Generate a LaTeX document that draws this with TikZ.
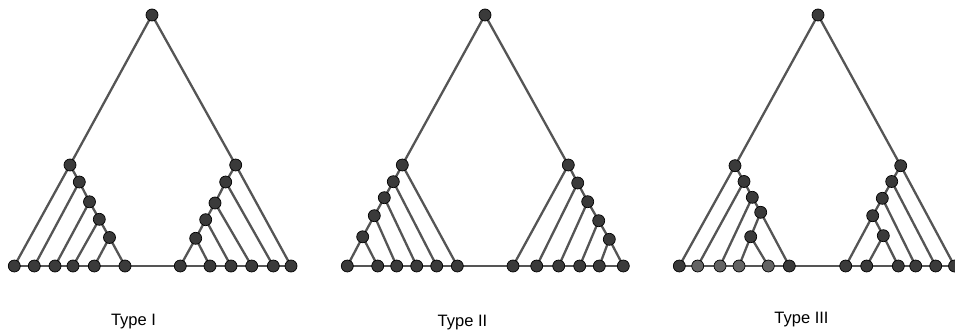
\documentclass[tikz,border=0pt]{standalone}
\usepackage{fontspec}
\setmainfont{Liberation Sans}
\pgfdeclarelayer{bg}
\pgfsetlayers{bg,main}
\definecolor{edgec}{HTML}{555555}
\definecolor{nodec}{HTML}{3A3A3A}
\definecolor{greyc}{HTML}{646464}
\begin{document}
\begin{tikzpicture}[x=1pt,y=-1pt,
  vtx/.style={circle,draw=black,line width=0.7pt,fill=nodec,minimum size=12pt,inner sep=0pt},
  gvtx/.style={vtx,fill=greyc},
  edge/.style={draw=edgec,line width=2.3pt},
  lbl/.style={font=\fontsize{16.5}{18}\selectfont,text=black}]
\useasboundingbox (0,0) rectangle (955,331);
% ---------- Type I ----------
\node[vtx] (A) at (152,15) {};
\node[vtx] (a)  at (70,165) {};
\node[vtx] (a1) at (79.3,182) {};
\node[vtx] (a2) at (89.5,201.8) {};
\node[vtx] (a3) at (99.3,219.3) {};
\node[vtx] (a4) at (109.5,237.5) {};
\node[vtx] (al1) at (14.3,266) {};
\node[vtx] (al2) at (34.3,266) {};
\node[vtx] (al3) at (55,266) {};
\node[vtx] (al4) at (73,266) {};
\node[vtx] (al5) at (94.3,266) {};
\node[vtx] (al6) at (125,266) {};
\node[vtx] (b)  at (235.7,165) {};
\node[vtx] (b1) at (225.7,182) {};
\node[vtx] (b2) at (215,203) {};
\node[vtx] (b3) at (205.7,219.7) {};
\node[vtx] (b4) at (195.7,238.3) {};
\node[vtx] (bl1) at (180.3,266) {};
\node[vtx] (bl2) at (210,266) {};
\node[vtx] (bl3) at (231,266) {};
\node[vtx] (bl4) at (251.7,266) {};
\node[vtx] (bl5) at (273.3,266) {};
\node[vtx] (bl6) at (291,266) {};
% ---------- Type II ----------
\node[vtx] (C) at (485,15) {};
\node[vtx] (c)  at (402.3,165) {};
\node[vtx] (c1) at (393.3,181.7) {};
\node[vtx] (c2) at (384.3,197.7) {};
\node[vtx] (c3) at (374.3,215.7) {};
\node[vtx] (c4) at (362.7,236.8) {};
\node[vtx] (cl1) at (347.3,266) {};
\node[vtx] (cl2) at (377.7,266) {};
\node[vtx] (cl3) at (396.7,266) {};
\node[vtx] (cl4) at (416.7,266) {};
\node[vtx] (cl5) at (436.7,266) {};
\node[vtx] (cl6) at (457.3,266) {};
\node[vtx] (d)  at (568.3,165) {};
\node[vtx] (d1) at (577.7,183) {};
\node[vtx] (d2) at (587.7,201.7) {};
\node[vtx] (d3) at (598.7,220.7) {};
\node[vtx] (d4) at (609.3,239.3) {};
\node[vtx] (dl1) at (513,266) {};
\node[vtx] (dl2) at (536.7,266) {};
\node[vtx] (dl3) at (558.7,266) {};
\node[vtx] (dl4) at (579.7,266) {};
\node[vtx] (dl5) at (599.3,266) {};
\node[vtx] (dl6) at (623.3,266) {};
% ---------- Type III ----------
\node[vtx] (E) at (818,15) {};
\node[vtx] (e)  at (735,165.7) {};
\node[vtx] (e1) at (744,181.5) {};
\node[vtx] (e2) at (752.3,197.3) {};
\node[vtx] (e3) at (760.7,212.3) {};
\node[vtx] (e4) at (750.7,236.7) {};
\node[vtx]  (el1) at (679.3,266) {};
\node[gvtx] (el2) at (697.7,266) {};
\node[gvtx] (el3) at (720,266) {};
\node[gvtx] (el4) at (739,266) {};
\node[gvtx] (el5) at (768.3,266) {};
\node[vtx]  (el6) at (789.3,266) {};
\node[vtx] (f)  at (900.7,165.7) {};
\node[vtx] (f1) at (891.7,181.5) {};
\node[vtx] (f2) at (882.3,198.3) {};
\node[vtx] (f3) at (872.7,215.7) {};
\node[vtx] (f4) at (883.3,235.7) {};
\node[vtx] (fl1) at (845.7,266) {};
\node[vtx] (fl2) at (866.7,266) {};
\node[vtx] (fl3) at (898.3,266) {};
\node[vtx] (fl4) at (915.7,266) {};
\node[vtx] (fl5) at (935.7,266) {};
\node[vtx] (fl6) at (954.5,266) {};
% ---------- edges ----------
\begin{pgfonlayer}{bg}
% Type I
\draw[edge] (a.center) -- (A.center) -- (b.center);
\draw[edge] (al1.center) -- (a.center) -- (a1.center) -- (a2.center) -- (a3.center) -- (a4.center) -- (al6.center);
\draw[edge] (a1.center) -- (al2.center);
\draw[edge] (a2.center) -- (al3.center);
\draw[edge] (a3.center) -- (al4.center);
\draw[edge] (a4.center) -- (al5.center);
\draw[edge] (bl6.center) -- (b.center) -- (b1.center) -- (b2.center) -- (b3.center) -- (b4.center) -- (bl1.center);
\draw[edge] (b1.center) -- (bl5.center);
\draw[edge] (b2.center) -- (bl4.center);
\draw[edge] (b3.center) -- (bl3.center);
\draw[edge] (b4.center) -- (bl2.center);
\draw[edge] (al1.center) -- (bl6.center);
% Type II
\draw[edge] (c.center) -- (C.center) -- (d.center);
\draw[edge] (cl6.center) -- (c.center) -- (c1.center) -- (c2.center) -- (c3.center) -- (c4.center) -- (cl1.center);
\draw[edge] (c1.center) -- (cl5.center);
\draw[edge] (c2.center) -- (cl4.center);
\draw[edge] (c3.center) -- (cl3.center);
\draw[edge] (c4.center) -- (cl2.center);
\draw[edge] (dl1.center) -- (d.center) -- (d1.center) -- (d2.center) -- (d3.center) -- (d4.center) -- (dl6.center);
\draw[edge] (d1.center) -- (dl2.center);
\draw[edge] (d2.center) -- (dl3.center);
\draw[edge] (d3.center) -- (dl4.center);
\draw[edge] (d4.center) -- (dl5.center);
\draw[edge] (cl1.center) -- (dl6.center);
% Type III
\draw[edge] (e.center) -- (E.center) -- (f.center);
\draw[edge] (el1.center) -- (e.center) -- (e1.center) -- (e2.center) -- (e3.center) -- (el6.center);
\draw[edge] (e1.center) -- (el2.center);
\draw[edge] (e2.center) -- (el3.center);
\draw[edge] (e3.center) -- (e4.center) -- (el4.center);
\draw[edge] (e4.center) -- (el5.center);
\draw[edge] (fl6.center) -- (f.center) -- (f1.center) -- (f2.center) -- (f3.center) -- (fl1.center);
\draw[edge] (f1.center) -- (fl5.center);
\draw[edge] (f2.center) -- (fl4.center);
\draw[edge] (f3.center) -- (f4.center) -- (fl3.center);
\draw[edge] (f4.center) -- (fl2.center);
\draw[edge] (el1.center) -- (fl6.center);
\end{pgfonlayer}
% ---------- labels ----------
\node[lbl] (t1) at (133.5,322) {Type I};
\node[lbl] (t2) at (462.5,323) {Type II};
\node[lbl] (t3) at (801.5,320) {Type III};
\end{tikzpicture}
\end{document}
